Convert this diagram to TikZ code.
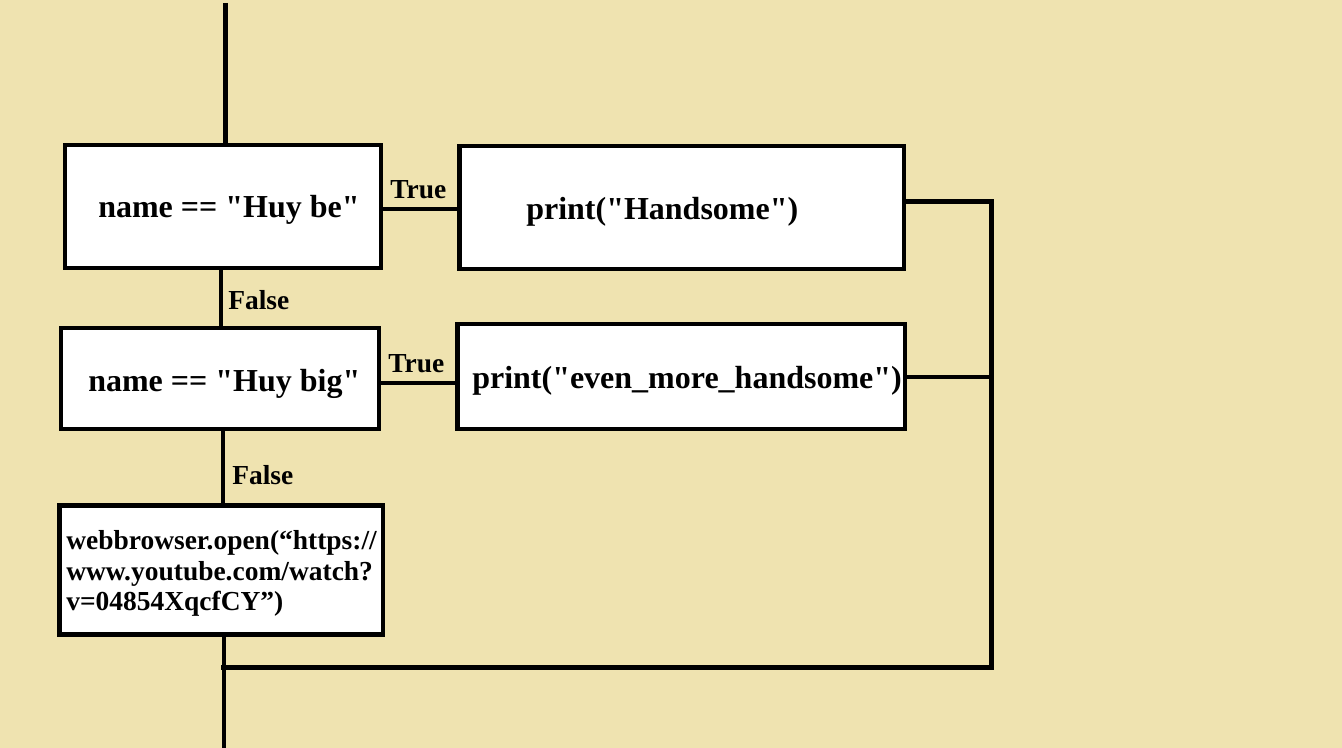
\documentclass[tikz,border=0pt]{standalone}
\usepackage{fontspec}
\setmainfont{Liberation Serif}[Ligatures=TeXOff]
\definecolor{bgkhaki}{RGB}{239,227,176}
\tikzset{
  flowbox/.style={draw=black, fill=white, line width=3.5pt, outer sep=0pt, inner sep=0pt},
  bigtxt/.style={anchor=base west, inner sep=0pt, font=\fontsize{24}{28}\selectfont\bfseries},
  lbltxt/.style={anchor=base west, inner sep=0pt, font=\fontsize{20.6}{24}\selectfont\bfseries},
  smalltxt/.style={anchor=base west, inner sep=0pt, font=\fontsize{20.6}{22.9}\selectfont\bfseries},
  wire/.style={draw=black, line width=3.5pt, line join=miter}
}
\begin{document}
\begin{tikzpicture}[x=0.75pt, y=-0.75pt]
\fill[bgkhaki] (0,0) rectangle (1342,748);
\useasboundingbox (0,0) rectangle (1342,748);

% boxes
\node[flowbox, minimum width=237pt, minimum height=92.25pt] (b1) at (223,206.5) {};
\node[flowbox, minimum width=333.4pt, minimum height=92.25pt] (b2) at (681.75,207.5) {};
\node[flowbox, minimum width=238.5pt, minimum height=75.75pt] (b3) at (220,378.5) {};
\node[flowbox, minimum width=335.6pt, minimum height=78.75pt] (b4) at (681.25,376.5) {};
\node[flowbox, minimum width=242.6pt, minimum height=96.75pt] (b5) at (221.25,570) {};

% texts
\node[bigtxt] (t1) at (98,218) {name == "Huy be"};
\node[bigtxt] (t2) at (526,219.5) {print("Handsome")};
\node[bigtxt] (t3) at (88,391.5) {name == "Huy big"};
\node[bigtxt] (t4) at (472,389) {print("even\_more\_handsome")};
\node[smalltxt] (t5) at (66,549.5) {\vtop{\baselineskip=22.9pt
  \hbox{webbrowser.open(“https://}\hbox{www.youtube.com/watch?}\hbox{v=04854XqcfCY”)}}};

% helper coordinates
\coordinate (topend) at (225.5,3);
\coordinate (botend) at (224,748);
\coordinate (xa) at (221,0);
\coordinate (xb) at (223,0);
\coordinate (xc) at (224,0);
\coordinate (ya) at (0,209);
\coordinate (yb) at (0,383);
\coordinate (yc) at (0,201.5);
\coordinate (yd) at (0,377);
\coordinate (rtop) at (991.5,201.5);
\coordinate (rbot) at (991.5,667.5);
\coordinate (lbot) at (221,667.5);

% connectors
\draw[wire] (topend) -- (topend |- b1.north);
\draw[wire] (b1.south -| xa) -- (b3.north -| xa);
\draw[wire] (b3.south -| xb) -- (b5.north -| xb);
\draw[wire] (b5.south -| xc) -- (botend);
\draw[wire] (b1.east |- ya) -- (b2.west |- ya);
\draw[wire] (b3.east |- yb) -- (b4.west |- yb);
\draw[wire] (b2.east |- yc) -- (rtop) -- (rbot) -- (lbot);
\draw[wire] (b4.east |- yd) -- (rtop |- yd);

% labels
\node[lbltxt] (l1) at (390,198.5) {True};
\node[lbltxt] (l2) at (388,372.5) {True};
\node[lbltxt] (l3) at (228,310) {False};
\node[lbltxt] (l4) at (232,484) {False};
\end{tikzpicture}
\end{document}
